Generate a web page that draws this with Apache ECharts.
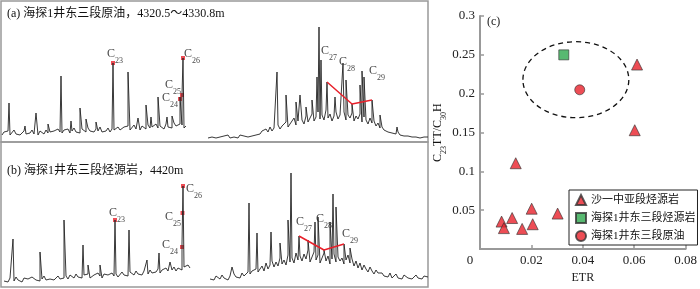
<!DOCTYPE html>
<html>
<head>
<meta charset="utf-8">
<script src="https://cdn.jsdelivr.net/npm/echarts@6/dist/echarts.min.js"></script>
<style>
html,body{margin:0;padding:0;background:#fff}
#chart{width:700px;height:289px}
</style>
</head>
<body>
<div id="chart"></div>
<script>
// chromatogram (a) left part: baseline samples every 2 units from x=2
var baseA1 = [7,10,8,11,7,9,12,8,10,7,9,11,8,10,9,12,8,10,7,11,9,8,12,9,10,8,11,9,13,10,
  9,12,10,13,9,11,14,10,12,9,13,11,10,14,11,12,10,13,11,15,10,12,11,14,10,13,12,11,15,12,
  12,15,13,16,12,14,17,13,15,12,16,14,13,17,14,15,13,18,14,16,15,13,18,15,17,14,19,16,15,18,17,14,16];
var peaksA1 = [[9,39],[25,16],[36,29],[48,18],[61,66],[71,21],[80,34],[86,23],[96,20],[113,79],
  [128,70],[138,24],[146,37],[151,25],[158,45],[167,25],[172,26],[180,45],[182,47],[183,84]];
// (a) right part, from x=208
var baseA2 = [4,6,5,7,4,6,5,3,6,5,7,4,6,5,6,4,7,5,6,8,5,7,6,8,7,9,
  8,11,9,13,10,15,11,14,12,17,13,16,14,20,15,18,16,24,17,21,19,
  22,18,26,20,24,28,21,25,30,23,27,22,32,24,28,21,26,30,23,27,
  25,30,22,27,24,29,21,26,23,28,20,25,22,18,24,19,21,16,19,14,
  15,12,14,10,12,9,11,8,10,7,9,6,8,6,7,5,7,5,6,4,6,5,6,5];
var peaksA2 = [[277,70],[286,47],[296,40],[300,47],[306,35],[312,42],[317,65],[319,115],[321,82],
  [327,60],[335,45],[343,79],[346,62],[352,38],[360,57],[362,71],[364,65],[372,42],[380,27],[397,15]];

// chromatogram (b) left part, from x=4
var baseB1 = [7,9,6,10,8,7,11,8,9,6,10,8,9,7,11,9,8,10,7,9,12,8,10,9,11,8,10,12,9,11,
  10,12,9,13,11,10,14,11,12,10,13,11,14,10,12,13,11,15,12,10,14,12,13,11,15,12,14,11,13,16,
  13,15,12,16,14,13,17,14,16,13,17,15,14,18,15,17,16,19,15,18,16,20,17,19,18,21,17,20,22,18,21,19,23,20];
var peaksB1 = [[13,49],[40,36],[64,68],[83,43],[88,23],[100,23],[115,68],[129,58],[147,28],
  [159,35],[170,26],[182,44],[183,102]];
// (b) right part, from x=210
var baseB2 = [9,11,8,12,10,9,13,10,11,8,12,10,14,11,12,10,15,12,13,16,14,17,15,19,16,
  18,22,17,25,19,23,27,21,26,22,30,24,28,23,33,26,30,25,35,28,32,
  27,34,29,38,26,31,36,28,33,25,30,35,27,32,24,29,34,26,31,27,
  30,24,28,33,25,29,22,27,20,25,18,23,19,16,21,17,14,18,15,13,
  15,12,14,11,13,10,12,14,10,12,9,13,11,10,12,9,11,13,10,11,9,12,10,11];
var peaksB2 = [[232,21],[249,85],[257,55],[271,56],[280,45],[288,68],[291,115],[299,52],[308,48],
  [315,66],[318,71],[324,38],[330,66],[333,94],[336,81],[344,44],[350,40],[366,20],[390,15]];

// marked n-alkane points and the C27-C29 trend
var dotsA = [[113,79],[180,43],[182,47],[183,84]];
var dotsB = [[115,68],[182,41],[182.5,75],[183,102]];
var trendA = [[327,60],[352,38],[372,42]];
var trendB = [[299,52],[324,38],[344,44]];
// peak labels: [x, y, carbon number]
var labelsA = [[115,88,'23'],[170,44,'24'],[173,57,'25'],[192,88,'26'],[329,91,'27'],[347,80,'28'],[377,71,'29']];
var labelsB = [[117,75,'23'],[170,43,'24'],[173,71,'25'],[194,99,'26'],[304,66,'27'],[324,69,'28'],[350,54,'29']];

// (c) ETR vs C23TT/C30H
var rockEtr = [0.0611,0.0602,0.0139,0.0201,0.0302,0.0125,0.0084,0.0093,0.0164,0.0205];
var rockVal = [0.2375,0.153,0.1105,0.052,0.0457,0.040,0.0354,0.027,0.026,0.032];
var hsRock = [[0.0326,0.25]];
var hsOil = [[0.0388,0.205]];
var oilZone = [[0.0373,0.218,0.0206,0.0489]]; // center x, y, radius x, radius y
var names = ['沙一中亚段烃源岩','海探1井东三段烃源岩','海探1井东三段原油'];

var FONT = '"Liberation Serif", "Noto Sans CJK SC", serif';
var RED = '#e8202a';

function trace(base, x0, peaks) {
  var pts = base.map(function (v, i) { return [x0 + 2 * i, v]; });
  pts = pts.concat(peaks);
  pts.sort(function (a, b) { return a[0] - b[0]; });
  return pts;
}

var subRich = {
  c: {fontSize: 12, fontFamily: FONT, color: '#111', lineHeight: 12, verticalAlign: 'top'},
  s: {fontSize: 8, fontFamily: FONT, color: '#111', lineHeight: 8, padding: [9, 0, 0, 0], verticalAlign: 'top'}
};

function traceSeries(data, idx) {
  return {type: 'line', xAxisIndex: idx, yAxisIndex: idx, data: data, symbol: 'none',
    lineStyle: {color: '#222', width: 0.9}, silent: true};
}

var chart = echarts.init(document.getElementById('chart'));
var option = {
  animation: false,
  title: [
    {text: '(a) 海探1井东三段原油，4320.5～4330.8m', left: 7, top: 8, padding: 0,
      textStyle: {fontSize: 12, fontWeight: 'normal', fontFamily: FONT, color: '#111'}},
    {text: '(b) 海探1井东三段烃源岩，4420m', left: 7, top: 165, padding: 0,
      textStyle: {fontSize: 12, fontWeight: 'normal', fontFamily: FONT, color: '#111'}},
    {text: '(c)', left: 487, top: 16, padding: 0,
      textStyle: {fontSize: 12, fontWeight: 'normal', fontFamily: FONT, color: '#222'}}
  ],
  grid: [
    {left: 1, top: 1, width: 427, height: 141, show: true, borderColor: '#999', borderWidth: 1.5},
    {left: 1, top: 142, width: 427, height: 145, show: true, borderColor: '#999', borderWidth: 1.5},
    {left: 480, top: 16, right: 12, bottom: 30.5}
  ],
  xAxis: [
    {gridIndex: 0, type: 'value', min: 1, max: 428, show: false},
    {gridIndex: 1, type: 'value', min: 1, max: 428, show: false},
    {gridIndex: 2, type: 'value', min: 0, max: 0.08, interval: 0.02,
      name: 'ETR', nameLocation: 'middle', nameGap: 22,
      nameTextStyle: {fontSize: 12, fontFamily: FONT, color: '#222'},
      axisLine: {lineStyle: {color: '#999', width: 2}},
      axisTick: {inside: true, length: 4, lineStyle: {color: '#999', width: 1.5}},
      axisLabel: {margin: 5, fontSize: 13, fontFamily: FONT, color: '#222',
        formatter: function (v) { return v === 0 ? '{z|0}' : String(v); },
        rich: {z: {fontSize: 13, fontFamily: FONT, color: '#222', padding: [0, 20, 0, 0]}}},
      splitLine: {show: false}}
  ],
  yAxis: [
    {gridIndex: 0, type: 'value', min: 0, max: 141, show: false},
    {gridIndex: 1, type: 'value', min: 1, max: 146, show: false},
    {gridIndex: 2, type: 'value', min: 0, max: 0.3, interval: 0.05,
      name: '{c|C}{s|23}{c|TT/C}{s|30}{c|H}', nameLocation: 'middle', nameGap: 33, nameRotate: 90,
      nameTextStyle: {rich: subRich},
      axisLine: {lineStyle: {color: '#999', width: 2}},
      axisTick: {inside: true, length: 4, lineStyle: {color: '#999', width: 1.5}},
      axisLabel: {margin: 5, fontSize: 13, fontFamily: FONT, color: '#222', showMinLabel: false},
      splitLine: {show: false}}
  ],
  legend: {
    orient: 'vertical', left: 569, top: 190, data: names,
    itemWidth: 10, itemHeight: 10, itemGap: 6, padding: [4, 2, 3, 6],
    borderColor: '#222', borderWidth: 1,
    textStyle: {fontSize: 11, fontFamily: FONT, color: '#111'}
  },
  series: [
    traceSeries(trace(baseA1, 2, peaksA1), 0),
    traceSeries(trace(baseA2, 208, peaksA2), 0),
    traceSeries(trace(baseB1, 4, peaksB1), 1),
    traceSeries(trace(baseB2, 210, peaksB2), 1),
    {type: 'line', xAxisIndex: 0, yAxisIndex: 0, data: trendA, symbol: 'none', lineStyle: {color: RED, width: 1.5}},
    {type: 'line', xAxisIndex: 1, yAxisIndex: 1, data: trendB, symbol: 'none', lineStyle: {color: RED, width: 1.5}},
    {type: 'scatter', xAxisIndex: 0, yAxisIndex: 0, data: dotsA, symbol: 'rect', symbolSize: 4, itemStyle: {color: RED}},
    {type: 'scatter', xAxisIndex: 1, yAxisIndex: 1, data: dotsB, symbol: 'rect', symbolSize: 4, itemStyle: {color: RED}},
    {type: 'scatter', xAxisIndex: 0, yAxisIndex: 0, data: labelsA, symbolSize: 0,
      label: {show: true, position: 'inside', formatter: function (p) { return '{c|C}{s|' + p.data[2] + '}'; }, rich: subRich}},
    {type: 'scatter', xAxisIndex: 1, yAxisIndex: 1, data: labelsB, symbolSize: 0,
      label: {show: true, position: 'inside', formatter: function (p) { return '{c|C}{s|' + p.data[2] + '}'; }, rich: subRich}},
    {type: 'custom', xAxisIndex: 2, yAxisIndex: 2, data: oilZone, silent: true,
      renderItem: function (params, api) {
        var c = api.coord([api.value(0), api.value(1)]);
        var s = api.size([api.value(2), api.value(3)]);
        return {type: 'ellipse', shape: {cx: c[0], cy: c[1], rx: s[0], ry: s[1]},
          style: {fill: 'none', stroke: '#111', lineWidth: 1.3, lineDash: [5, 4]}};
      }},
    {name: names[0], type: 'scatter', xAxisIndex: 2, yAxisIndex: 2, symbol: 'triangle', symbolSize: 11,
      data: rockEtr.map(function (x, i) { return [x, rockVal[i]]; }),
      itemStyle: {color: RED, borderColor: '#333', borderWidth: 0.8}},
    {name: names[1], type: 'scatter', xAxisIndex: 2, yAxisIndex: 2, symbol: 'rect', symbolSize: 10,
      data: hsRock, itemStyle: {color: '#2ea84e', borderColor: '#333', borderWidth: 0.8}},
    {name: names[2], type: 'scatter', xAxisIndex: 2, yAxisIndex: 2, symbol: 'circle', symbolSize: 10,
      data: hsOil, itemStyle: {color: RED, borderColor: '#333', borderWidth: 0.8}}
  ]
};
chart.setOption(option);
</script>
</body>
</html>
